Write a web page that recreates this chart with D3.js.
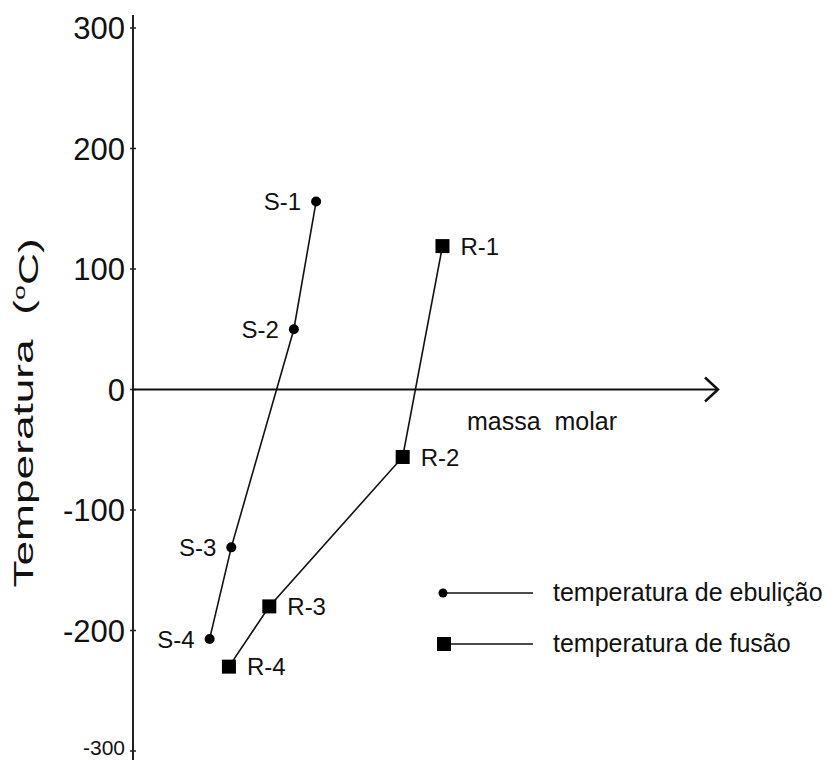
<!doctype html>
<html lang="pt">
<head>
	<meta charset="utf-8">
	<title>Temperatura x massa molar</title>
	<script src="https://cdnjs.cloudflare.com/ajax/libs/d3/7.8.5/d3.min.js"></script>
	<style>
		body { margin: 0; background: #fff; }
		text { font-family: "Liberation Sans", Arial, sans-serif; fill: #111; white-space: pre; }
	</style>
</head>
<body>
<div id="d3view"></div>
<script>
/* data */
var yTicks = [300, 200, 100, 0, -100, -200];
var yBottomTick = -300;

var ebulicaoNames = ['S-1', 'S-2', 'S-3', 'S-4'];
var ebulicaoMassa = [31.3, 27.5, 16.8, 13.1];
var ebulicaoTemp = [156, 50, -131, -207];

var fusaoNames = ['R-1', 'R-2', 'R-3', 'R-4'];
var fusaoMassa = [52.9, 46.1, 23.3, 16.4];
var fusaoTemp = [119, -56, -180, -230];

var legendLabels = ['temperatura de ebulição', 'temperatura de fusão'];

/* view */
var size = { width: 838, height: 760 };

var svg = d3.select('#d3view')
	.append('svg')
	.attr('width', size.width)
	.attr('height', size.height);

var x = d3.scaleLinear().domain([0, 100]).range([133, 718]);
var y = d3.scaleLinear().domain([-300, 300]).range([751, 28]);

// y axis
svg.append('line')
	.attr('x1', x(0)).attr('x2', x(0))
	.attr('y1', 15).attr('y2', 760)
	.style('stroke', '#222').style('stroke-width', 2);

var ticks = svg.selectAll('g.ytick')
	.data(yTicks.concat([yBottomTick]))
	.enter().append('g')
	.attr('class', 'ytick')
	.attr('transform', function(d){ return 'translate(' + x(0) + ',' + y(d) + ')'; });

	ticks.append('line')
		.attr('x1', -3).attr('x2', 3)
		.style('stroke', '#222').style('stroke-width', 1.5);
	ticks.append('text')
		.attr('x', -8)
		.attr('y', function(d){ return d === yBottomTick ? -4 : 0; })
		.attr('dy', '0.36em')
		.attr('text-anchor', 'end')
		.style('font-size', function(d){ return d === yBottomTick ? '21px' : '31px'; })
		.text(function(d){ return d; });

// x axis with open arrow
svg.append('line')
	.attr('x1', x(0)).attr('x2', x(100))
	.attr('y1', y(0)).attr('y2', y(0))
	.style('stroke', '#111').style('stroke-width', 2);
svg.append('path')
	.attr('d', 'M' + (x(100) - 13) + ',' + (y(0) - 12) + 'L' + x(100) + ',' + y(0) + 'L' + (x(100) - 13) + ',' + (y(0) + 12))
	.style('fill', 'none').style('stroke', '#111').style('stroke-width', 2.5);

svg.append('text')
	.attr('x', 467)
	.attr('y', y(0) + 40)
	.style('font-size', '25px')
	.text('massa  molar');

// y title, stretched along its baseline like the original
var title = svg.append('text')
	.attr('transform', 'translate(33,413) rotate(-90) scale(1.58,1)')
	.attr('text-anchor', 'middle')
	.style('font-size', '28px');
	title.append('tspan').text('Temperatura  (');
	title.append('tspan').attr('dy', '-0.45em').style('font-size', '17px').text('o');
	title.append('tspan').attr('dy', '0.45em').text('C)');

// series
var line = d3.line()
	.x(function(d){ return x(d.m); })
	.y(function(d){ return y(d.t); });

var ebulicao = ebulicaoNames.map(function(n, i){ return { name: n, m: ebulicaoMassa[i], t: ebulicaoTemp[i] }; });
var fusao = fusaoNames.map(function(n, i){ return { name: n, m: fusaoMassa[i], t: fusaoTemp[i] }; });

svg.append('path')
	.datum(ebulicao)
	.attr('d', line)
	.style('fill', 'none').style('stroke', '#111').style('stroke-width', 1.6);
svg.append('path')
	.datum(fusao)
	.attr('d', line)
	.style('fill', 'none').style('stroke', '#111').style('stroke-width', 1.6);

svg.selectAll('circle.ebu')
	.data(ebulicao)
	.enter().append('circle')
	.attr('class', 'ebu')
	.attr('cx', function(d){ return x(d.m); })
	.attr('cy', function(d){ return y(d.t); })
	.attr('r', 5)
	.style('fill', '#000');
svg.selectAll('text.ebu')
	.data(ebulicao)
	.enter().append('text')
	.attr('class', 'ebu')
	.attr('x', function(d){ return x(d.m) - 15; })
	.attr('y', function(d){ return y(d.t); })
	.attr('dy', '0.36em')
	.attr('text-anchor', 'end')
	.style('font-size', '24px')
	.text(function(d){ return d.name; });

svg.selectAll('rect.fus')
	.data(fusao)
	.enter().append('rect')
	.attr('class', 'fus')
	.attr('x', function(d){ return x(d.m) - 7; })
	.attr('y', function(d){ return y(d.t) - 7; })
	.attr('width', 14).attr('height', 14)
	.style('fill', '#000');
svg.selectAll('text.fus')
	.data(fusao)
	.enter().append('text')
	.attr('class', 'fus')
	.attr('x', function(d){ return x(d.m) + 18; })
	.attr('y', function(d){ return y(d.t); })
	.attr('dy', '0.36em')
	.style('font-size', '24px')
	.text(function(d){ return d.name; });

// legend
var legend = svg.selectAll('g.legend')
	.data(legendLabels)
	.enter().append('g')
	.attr('class', 'legend')
	.attr('transform', function(d, i){ return 'translate(443,' + (593 + i * 51) + ')'; });

	legend.append('line')
		.attr('x1', 0).attr('x2', 90)
		.style('stroke', '#111').style('stroke-width', 1.6);
	legend.filter(function(d, i){ return i === 0; })
		.append('circle').attr('r', 4.5).style('fill', '#000');
	legend.filter(function(d, i){ return i === 1; })
		.append('rect').attr('x', -6).attr('y', -7).attr('width', 14).attr('height', 14).style('fill', '#000');
	legend.append('text')
		.attr('x', 110)
		.attr('dy', '0.3em')
		.style('font-size', '25px')
		.text(function(d){ return d; });
</script>
</body>
</html>
